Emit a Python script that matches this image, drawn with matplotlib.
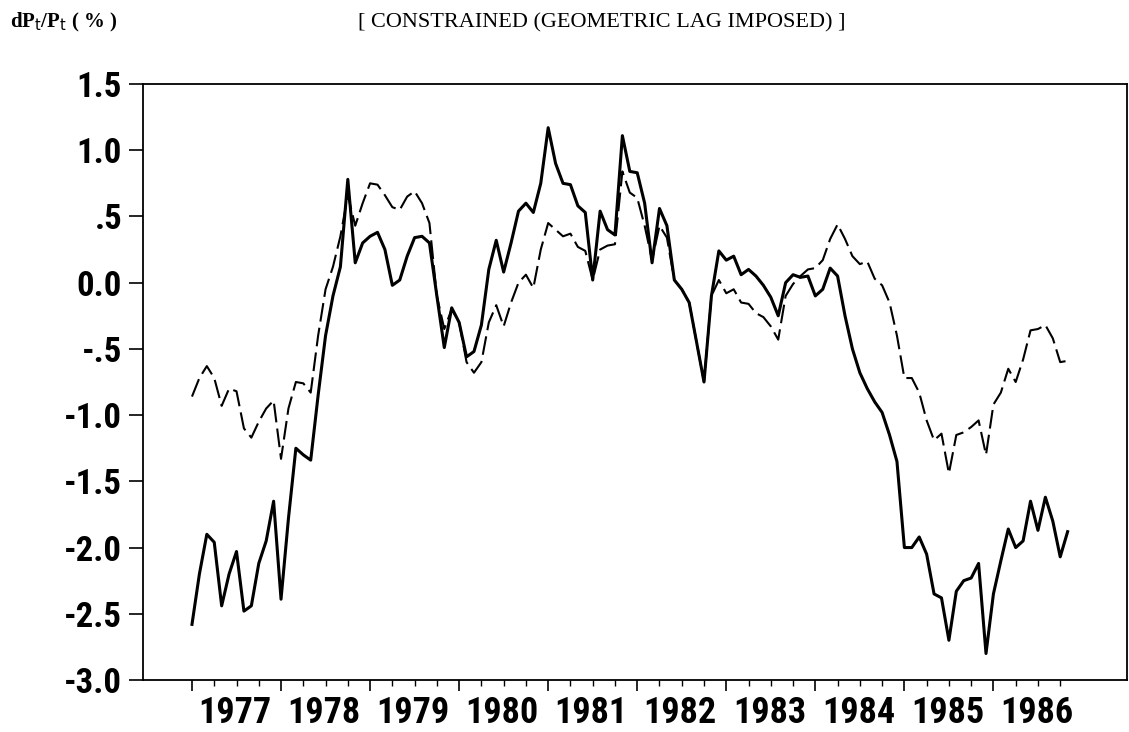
import numpy as np
import matplotlib
matplotlib.use("Agg")
import matplotlib.pyplot as plt
from matplotlib.ticker import FixedLocator, NullFormatter

narrow = ["Liberation Sans Narrow", "Roboto Condensed", "Roboto", "DejaVu Sans"]
plt.rcParams["font.family"] = narrow

# monthly observations, Jan 1977 onwards
solid = [
    -2.58, -2.20, -1.90, -1.96, -2.44, -2.20, -2.03, -2.48, -2.44, -2.12,
    -1.95, -1.65, -2.39, -1.78, -1.25, -1.30, -1.34, -0.85, -0.40, -0.10,
    0.12, 0.78, 0.15, 0.30, 0.35, 0.38, 0.25, -0.02, 0.02, 0.20,
    0.34, 0.35, 0.30, -0.10, -0.49, -0.19, -0.30, -0.56, -0.52, -0.32,
    0.10, 0.32, 0.08, 0.30, 0.54, 0.60, 0.53, 0.75, 1.17, 0.90,
    0.75, 0.74, 0.58, 0.53, 0.02, 0.54, 0.40, 0.36, 1.11, 0.84,
    0.83, 0.60, 0.15, 0.56, 0.43, 0.02, -0.05, -0.15, -0.45, -0.75,
    -0.10, 0.24, 0.17, 0.20, 0.06, 0.10, 0.05, -0.02, -0.11, -0.25,
    0.00, 0.06, 0.04, 0.05, -0.10, -0.05, 0.11, 0.05, -0.25, -0.50,
    -0.68, -0.80, -0.90, -0.98, -1.15, -1.35, -2.00, -2.00, -1.92, -2.05,
    -2.35, -2.38, -2.70, -2.33, -2.25, -2.23, -2.12, -2.80, -2.35, -2.10,
    -1.86, -2.00, -1.95, -1.65, -1.87, -1.62, -1.80, -2.07, -1.88,
]
dashed = [
    -0.86, -0.72, -0.63, -0.72, -0.93, -0.80, -0.82, -1.10, -1.17, -1.05,
    -0.95, -0.89, -1.33, -0.95, -0.75, -0.76, -0.83, -0.40, -0.05, 0.12,
    0.35, 0.66, 0.43, 0.60, 0.75, 0.74, 0.66, 0.57, 0.55, 0.65,
    0.69, 0.60, 0.45, -0.10, -0.35, -0.20, -0.30, -0.60, -0.68, -0.60,
    -0.30, -0.17, -0.33, -0.15, 0.00, 0.06, -0.04, 0.25, 0.45, 0.40,
    0.35, 0.37, 0.27, 0.24, 0.02, 0.25, 0.28, 0.29, 0.84, 0.68,
    0.64, 0.43, 0.17, 0.43, 0.34, 0.02, -0.05, -0.15, -0.45, -0.75,
    -0.10, 0.02, -0.08, -0.05, -0.15, -0.16, -0.23, -0.26, -0.33, -0.43,
    -0.10, -0.01, 0.05, 0.10, 0.11, 0.17, 0.33, 0.44, 0.33, 0.20,
    0.14, 0.16, 0.03, -0.02, -0.15, -0.40, -0.72, -0.72, -0.83, -1.04,
    -1.19, -1.14, -1.44, -1.15, -1.13, -1.09, -1.04, -1.30, -0.92, -0.83,
    -0.65, -0.75, -0.58, -0.36, -0.35, -0.32, -0.42, -0.60, -0.59,
]
years = list(range(1977, 1987))
yticks = [1.5, 1.0, 0.5, 0.0, -0.5, -1.0, -1.5, -2.0, -2.5, -3.0]
ylabels = ["1.5", "1.0", ".5", "0.0", "-.5", "-1.0", "-1.5", "-2.0", "-2.5", "-3.0"]

months = np.arange(len(solid))

fig = plt.figure(figsize=(11.29, 7.32), dpi=100)
ax = fig.add_axes([143 / 1129, 1 - 680 / 732, (1127 - 143) / 1129, (680 - 84) / 732])

ax.plot(months, solid, color="black", linewidth=2.2, solid_joinstyle="round")
ax.plot(months, dashed, color="black", linewidth=1.5, dashes=(9, 3))

ax.set_xlim(-6.6, 126)
ax.set_ylim(-3.0, 1.5)

ax.set_yticks(yticks)
ax.set_yticklabels(ylabels, fontsize=25, fontweight="bold", fontstretch="condensed")
ax.tick_params(axis="y", length=10, width=1.2, pad=5)

ax.xaxis.set_major_locator(FixedLocator([12 * i for i in range(len(years))]))
ax.xaxis.set_major_formatter(NullFormatter())
ax.xaxis.set_minor_locator(FixedLocator([3 * i for i in range(4 * len(years) + 1) if i % 4]))
ax.tick_params(axis="x", which="major", length=8, width=1.2)
ax.tick_params(axis="x", which="minor", length=4, width=1.0)

for i, y in enumerate(years):
    ax.text(12 * i + 5.8, -0.025, str(y), transform=ax.get_xaxis_transform(),
            ha="center", va="top", fontsize=26, fontweight="bold",
            fontstretch="condensed")

for s in ax.spines.values():
    s.set_linewidth(1.3)

serif = ["Liberation Serif", "DejaVu Serif"]
fig.text(10 / 1129, 1 - 22 / 732, r"dP$_\mathrm{t}$/P$_\mathrm{t}$ ( % )",
         fontsize=15, fontweight="bold", family=serif, va="center", ha="left")
fig.text(358 / 1129, 1 - 23 / 732, "[ CONSTRAINED (GEOMETRIC LAG IMPOSED) ]",
         fontsize=16, family=serif, va="center", ha="left")

fig.savefig("out.png", dpi=100)
